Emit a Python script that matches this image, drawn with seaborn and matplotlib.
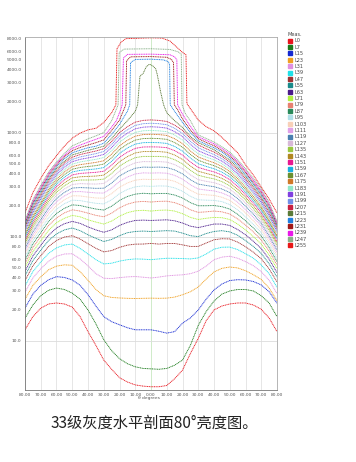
import numpy as np
import pandas as pd
import matplotlib
matplotlib.use('Agg')
import matplotlib.pyplot as plt
from matplotlib.lines import Line2D
from matplotlib.ticker import FixedLocator, NullLocator
import seaborn as sns

sns.set_theme(style='white')
plt.rcParams['font.family'] = ['DejaVu Sans']

# viewing angle grid (degrees) shared by L0 ... L207
angles = list(range(-80, 81, 5))

L0 = [12.7, 17, 20.5, 22.5, 23, 22.5, 21, 17, 12.2, 9, 6.5, 5.3, 4.4, 4.0, 3.75, 3.65, 3.6,
      3.6, 3.7, 4.3, 5.2, 7.5, 10.5, 15.5, 19.7, 21.5, 22.5, 23, 23, 22, 20, 16.5, 12.2]
L7 = [16.4, 22, 27, 30.5, 32, 31, 28.6, 25, 19.7, 14.5, 10.2, 8, 6.7, 6, 5.6, 5.4, 5.35,
      5.3, 5.4, 5.8, 6.5, 9, 14, 19, 24, 28, 30, 31, 31, 30, 27, 23, 17]
L15 = [20.5, 28, 34, 38.5, 41.2, 40.5, 38.3, 34, 27.6, 21.5, 17, 15.2, 14.2, 13.3, 12.7, 12.7, 12.7,
       12.3, 11.8, 12.2, 14.7, 16.5, 19.7, 25, 30.7, 35, 37.8, 38.5, 38.3, 37, 34.3, 29.5, 22.9]
L23 = [24.9, 34, 41, 48, 52, 53.5, 53, 46, 38, 31, 27, 26, 25.7, 25.5, 25.4, 25.5, 25.6,
       25.5, 25.6, 26.2, 27.6, 29.5, 32.8, 39, 45.7, 49.5, 51, 50, 47, 43, 38.7, 32, 24.2]
L31 = [29.2, 40, 49, 58, 64.7, 68, 68.4, 61, 52.3, 44, 39.8, 39.5, 40.3, 41, 41.3, 40.7, 40,
       40.8, 41.9, 42.5, 42.9, 44, 46.5, 52, 59.9, 63.5, 64.7, 62, 57.5, 52.5, 46, 38, 28.3]
L39 = [33.5, 46, 57, 69, 77.9, 83, 84.8, 77, 68, 60, 54.6, 55.5, 58.1, 60, 61, 60.7, 60,
       61, 61.9, 61.8, 61.5, 61, 62.4, 68, 75.7, 79, 79.3, 75, 68.5, 62, 53.4, 44, 32.5]
L47 = [37.7, 52.4, 65.5, 80.3, 91.8, 99, 102, 94.7, 85.4, 77.2, 71.3, 73.4, 78.8, 82.8, 84.6, 84.8, 86,
       84.7, 85.9, 85.9, 83.3, 80.4, 80.5, 86.7, 93.2, 95.4, 94.9, 88.5, 80, 70.8, 61.2, 48.9, 36.7]
L55 = [42, 58.8, 74, 91.7, 106, 116, 121, 114, 104, 96.2, 89.7, 93.9, 102, 109, 112, 113, 112,
       113, 114, 113, 108, 102, 100, 107, 112, 114, 111, 103, 91.7, 80.4, 68.9, 54.7, 40.8]
L63 = [46.3, 65.2, 82.5, 103, 121, 133, 140, 134, 124, 116, 110, 116, 128, 137, 143, 144, 143,
       144, 145, 142, 135, 126, 122, 127, 132, 132, 128, 117, 104, 90.1, 76.7, 60.6, 45]
L71 = [50.5, 71.6, 91.2, 115, 136, 150, 160, 155, 145, 138, 132, 141, 157, 170, 177, 179, 176,
       179, 180, 176, 166, 153, 146, 150, 153, 152, 146, 132, 116, 100, 84.7, 66.4, 49.2]
L79 = [54.8, 78.2, 100, 128, 151, 169, 181, 176, 168, 160, 155, 168, 189, 205, 215, 218, 215,
       218, 219, 212, 199, 181, 171, 173, 176, 173, 165, 148, 129, 111, 92.9, 72.4, 53.3]
L87 = [59.1, 84.7, 109, 140, 167, 187, 202, 199, 191, 184, 180, 196, 223, 243, 256, 261, 258,
       260, 260, 251, 235, 212, 198, 198, 199, 194, 184, 164, 142, 121, 101, 78.4, 57.5]
L95 = [63.3, 91.1, 118, 152, 183, 207, 224, 222, 215, 209, 206, 226, 259, 284, 301, 307, 304,
       307, 306, 294, 273, 244, 226, 224, 223, 217, 203, 181, 155, 131, 109, 84.2, 61.7]
L103 = [67.6, 97.6, 127, 165, 199, 226, 247, 246, 240, 235, 234, 259, 298, 328, 349, 356, 354,
        356, 355, 340, 313, 279, 256, 252, 249, 239, 223, 197, 169, 142, 117, 90.2, 65.8]
L111 = [71.8, 104, 136, 178, 216, 246, 270, 271, 267, 263, 262, 292, 339, 374, 400, 410, 408,
        410, 407, 388, 357, 315, 287, 280, 275, 263, 244, 214, 182, 153, 126, 96.3, 70]
L119 = [76.1, 111, 145, 190, 232, 266, 293, 296, 294, 291, 292, 327, 382, 423, 454, 466, 464,
        466, 462, 438, 401, 352, 320, 310, 302, 287, 265, 232, 196, 164, 134, 102, 74.2]
L127 = [80.4, 118, 155, 204, 249, 287, 317, 323, 321, 320, 324, 365, 427, 475, 512, 526, 525,
        526, 520, 492, 449, 392, 353, 340, 330, 312, 286, 249, 210, 175, 143, 108, 78.3]
L135 = [84.6, 124, 164, 217, 267, 308, 342, 350, 350, 351, 357, 404, 476, 530, 574, 590, 590,
        590, 583, 549, 500, 434, 389, 372, 359, 338, 308, 267, 225, 186, 151, 115, 82.5]
L143 = [88.9, 131, 173, 230, 284, 329, 367, 376, 379, 382, 390, 444, 525, 588, 637, 657, 657,
        657, 647, 609, 552, 477, 425, 405, 388, 363, 330, 285, 239, 197, 160, 121, 86.7]
L151 = [93.2, 138, 183, 244, 302, 351, 392, 405, 410, 415, 425, 486, 578, 648, 705, 727, 729,
        727, 716, 671, 608, 522, 463, 439, 419, 391, 353, 304, 254, 209, 169, 127, 90.8]
L159 = [97.4, 144, 192, 257, 319, 373, 418, 433, 440, 447, 461, 529, 632, 711, 775, 800, 803,
        800, 787, 736, 664, 569, 502, 473, 449, 417, 376, 323, 268, 220, 177, 133, 95]
L167 = [102, 151, 202, 271, 338, 395, 444, 462, 472, 481, 498, 574, 688, 775, 847, 876, 881,
        876, 861, 803, 723, 617, 542, 508, 481, 445, 399, 342, 284, 231, 186, 139, 99.2]
L175 = [106, 158, 211, 284, 356, 418, 471, 492, 504, 517, 536, 621, 746, 844, 924, 957, 963,
        957, 939, 873, 784, 666, 583, 545, 513, 473, 423, 361, 298, 243, 195, 145, 103]
L183 = [110, 165, 221, 298, 374, 440, 497, 522, 538, 553, 576, 669, 807, 915, 1004, 1041, 1048,
        1040, 1020, 948, 848, 718, 626, 583, 547, 502, 446, 380, 314, 255, 204, 151, 108]
L191 = [114, 171, 231, 312, 393, 464, 525, 553, 571, 590, 617, 718, 870, 988, 1087, 1128, 1138,
        1128, 1104, 1023, 914, 771, 670, 621, 581, 531, 471, 400, 329, 266, 212, 158, 112]
L199 = [119, 178, 240, 326, 411, 487, 552, 583, 605, 628, 658, 769, 935, 1063, 1172, 1218, 1230,
        1218, 1191, 1100, 982, 825, 715, 661, 615, 560, 495, 420, 345, 278, 221, 164, 116]
L207 = [123, 185, 250, 340, 430, 510, 580, 615, 640, 665, 700, 820, 1000, 1140, 1260, 1310, 1324,
        1310, 1280, 1180, 1050, 880, 760, 700, 650, 590, 520, 440, 360, 290, 230, 170, 120]

# the top levels have sharp features, so they get their own angle lists
L215_ang = [-80, -75, -70, -65, -60, -55, -50, -45, -40, -35, -30, -25, -20, -15, -10, -8.5, -7, -5, -3, -1,
            1, 3, 4, 6, 8, 10, 15, 20, 25, 30, 35, 40, 45, 50, 55, 60, 65, 70, 75, 80]
L215 = [127, 194, 262, 356, 450, 530, 610, 642, 675, 705, 740, 880, 1080, 1300, 1600, 1850, 3500, 3700, 4300, 4540,
        4400, 4100, 3600, 2500, 1850, 1550, 1300, 1120, 920, 800, 740, 683, 612, 546, 460, 378, 305, 241, 180, 124]
L223_ang = [-80, -75, -70, -65, -60, -55, -50, -45, -40, -35, -30, -25, -20, -15, -13.5, -13, -10, 0, 8, 11,
            11.8, 12.2, 15, 20, 25, 30, 35, 40, 45, 50, 55, 60, 65, 70, 75, 80]
L223 = [131, 203, 274, 372, 470, 560, 640, 678, 715, 740, 790, 960, 1200, 1600, 1850, 4700, 5050, 5080, 5000, 4800,
        4500, 1850, 1600, 1250, 1000, 835, 770, 715, 650, 572, 484, 396, 319, 253, 187, 128]
L231_ang = [-80, -75, -70, -65, -60, -55, -50, -45, -40, -35, -30, -25, -20, -17, -16, -15.5, -13, 0, 10, 13,
            14.3, 14.8, 17, 20, 25, 30, 35, 40, 45, 50, 55, 60, 65, 70, 75, 80]
L231 = [135, 211, 286, 388, 490, 585, 670, 720, 760, 800, 850, 1050, 1320, 1700, 1850, 4900, 5350, 5380, 5300, 5050,
        4700, 1850, 1650, 1350, 1060, 875, 805, 748, 675, 598, 506, 414, 333, 264, 196, 132]
L239_ang = [-80, -75, -70, -65, -60, -55, -50, -45, -40, -35, -30, -26, -22, -19, -18.3, -17.5, -15, 0, 12, 15,
            16.4, 16.9, 20, 25, 30, 35, 40, 45, 50, 55, 60, 65, 70, 75, 80]
L239 = [139, 219, 298, 403, 505, 605, 705, 758, 810, 862, 920, 1080, 1300, 1700, 1850, 5200, 5650, 5680, 5600, 5350,
        5000, 1850, 1500, 1150, 910, 842, 780, 703, 624, 528, 432, 348, 276, 205, 136]
L247_ang = [-80, -75, -70, -65, -60, -55, -50, -45, -40, -35, -30, -25, -21.5, -20.9, -20.2, -17, 0, 12, 17, 19.2,
            19.7, 22, 25, 30, 35, 40, 45, 50, 55, 60, 65, 70, 75, 80]
L247 = [143, 226, 310, 418, 520, 630, 745, 805, 870, 930, 1000, 1300, 1750, 1850, 5900, 6350, 6400, 6300, 6000, 5700,
        1850, 1500, 1300, 950, 878, 812, 730, 650, 548, 450, 362, 287, 213, 140]
L255_ang = [-80, -75, -70, -65, -60, -55, -50, -45, -40, -35, -30, -25, -22.3, -21.6, -19, -16, 0, 7, 12, 16,
            20, 22.2, 22.8, 25, 30, 35, 40, 45, 50, 55, 60, 65, 70, 75, 80]
L255 = [169, 265, 363, 480, 600, 740, 884, 990, 1062, 1100, 1250, 1550, 1850, 6400, 7400, 8000, 8150, 8100, 7600, 6700,
        5900, 5600, 1900, 1700, 1320, 1140, 1040, 900, 760, 640, 490, 390, 300, 230, 169]

colors = ['#e8141c', '#1a7a1a', '#1428d2', '#f0a020', '#e090e0', '#20e0e8', '#a03232', '#1a8a8a',
          '#4a1a8a', '#b0f040', '#e88070', '#2a8a5a', '#b0e0e8', '#f8d0b8', '#e0a0e8', '#4a80b0',
          '#d8b8d8', '#98c840', '#b08820', '#e81890', '#18b0e0', '#6a9030', '#d07828', '#90e8c8',
          '#8040e0', '#7090e8', '#c82040', '#5a7a38', '#2080e0', '#a01818', '#e818e8', '#88b088',
          '#e81818']

levels = [0, 7, 15, 23, 31, 39, 47, 55, 63, 71, 79, 87, 95, 103, 111, 119, 127, 135, 143,
          151, 159, 167, 175, 183, 191, 199, 207, 215, 223, 231, 239, 247, 255]
names = ['L%d' % v for v in levels]

bulk = [L0, L7, L15, L23, L31, L39, L47, L55, L63, L71, L79, L87, L95, L103, L111, L119,
        L127, L135, L143, L151, L159, L167, L175, L183, L191, L199, L207]
series = [(angles, v) for v in bulk] + [(L215_ang, L215), (L223_ang, L223), (L231_ang, L231),
                                        (L239_ang, L239), (L247_ang, L247), (L255_ang, L255)]

rows = []
for name, (ang, vals) in zip(names, series):
    for a, v in zip(ang, vals):
        rows.append((name, a, v))
df = pd.DataFrame(rows, columns=['level', 'theta', 'lum'])
palette = dict(zip(names, colors))

fig = plt.figure(figsize=(3.56, 4.62), dpi=100)
ax = fig.add_axes([25/356, 1-390/462, 252/356, 353/462])

# grid first so the curves sit on top
for x in range(-80, 81, 10):
    ax.axvline(x, color='#c8e8c0' if x == 0 else '#e2e2e2', lw=0.6, zorder=0)
for y in [10, 100, 1000]:
    ax.axhline(y, color='#dcdcdc', lw=0.6, zorder=0)

sns.lineplot(data=df, x='theta', y='lum', hue='level', hue_order=names, palette=palette,
             estimator=None, legend=False, lw=0.65, linestyle=(0, (1.2, 0.7)), ax=ax)

ax.set_yscale('log')
ax.set_xlim(-80, 80)
ax.set_ylim(3.35, 8300)
yt = [10, 20, 30, 40, 50, 60, 80, 100, 200, 300, 400, 500, 600, 800, 1000,
      2000, 3000, 4000, 5000, 6000, 8000]
ax.yaxis.set_major_locator(FixedLocator(yt))
ax.yaxis.set_minor_locator(NullLocator())
ax.set_yticklabels(['%.1f' % v for v in yt])
xt = list(range(-80, 81, 10))
ax.set_xticks(xt)
ax.set_xticklabels(['%.2f' % abs(v) for v in xt])
ax.tick_params(labelsize=3.2, colors='#555555', length=1.5, width=0.4, pad=1)
ax.set_xlabel('')
ax.set_ylabel('')
for s in ax.spines.values():
    s.set_color('#aaaaaa')
    s.set_linewidth(0.6)
ax.spines['left'].set_color('#777777')
ax.spines['bottom'].set_color('#777777')

fig.text(149/356, 1-398/462, 'θ degrees', fontsize=3.2, color='#555555', ha='center', va='center')

handles = [Line2D([], [], marker='s', color=c, linestyle='', markersize=2.4) for c in colors]
leg = fig.legend(handles, names, title='Meas.', loc='upper left',
                 bbox_to_anchor=(288/356, 1-32/462), frameon=False, fontsize=3.6,
                 title_fontsize=3.6, labelspacing=0.28, handlelength=0.8, handletextpad=0.5,
                 borderaxespad=0, borderpad=0)
leg._legend_box.align = 'left'
for t in leg.get_texts():
    t.set_color('#444444')
leg.get_title().set_color('#444444')

fig.text(154/356, 1-423/462, '33级灰度水平剖面80°亮度图。', fontsize=11, color='#222222',
         ha='center', va='center', family=['Noto Sans CJK SC', 'DejaVu Sans'])

fig.savefig('out.png', dpi=100)
